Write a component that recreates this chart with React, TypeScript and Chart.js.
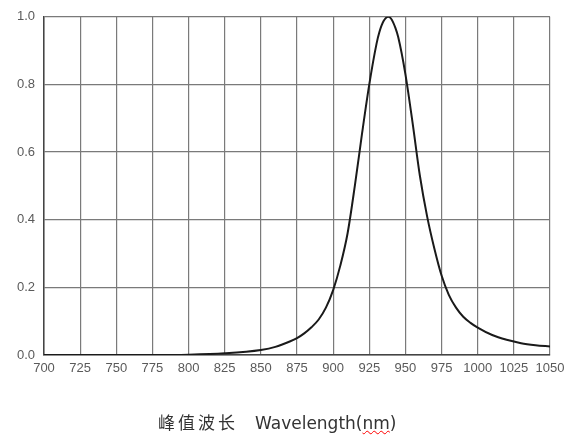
import React, { useEffect, useRef } from "react";
import { Chart, registerables } from "chart.js";

Chart.register(...registerables);

const wavelengths: number[] = [
  700, 725, 750, 775, 800, 825, 850, 860, 870, 875, 880, 885, 890, 895,
  900, 905, 910, 915, 920, 925, 930, 932, 935, 938, 940, 943, 945, 950, 955, 960, 965, 970, 975,
  980, 985, 990, 995, 1000, 1010, 1020, 1030, 1040, 1050,
];
const intensity: number[] = [
  0, 0, 0, 0, 0.001, 0.005, 0.015, 0.024, 0.04, 0.05, 0.064, 0.082, 0.105, 0.14,
  0.192, 0.265, 0.36, 0.5, 0.655, 0.8, 0.92, 0.955, 0.988, 1.0, 0.995, 0.968, 0.94, 0.83, 0.685, 0.53, 0.41, 0.315, 0.235,
  0.178, 0.14, 0.113, 0.095, 0.081, 0.059, 0.045, 0.035, 0.029, 0.025,
];
const xMin = 700;
const xMax = 1050;
const xStep = 25;
const yMin = 0;
const yMax = 1.0;
const yStep = 0.2;
const titleZh = "峰值波长";
const titleEn = "Wavelength(";
const titleUnit = "nm";
const titleEnd = ")";

export default function App() {
  const canvasRef = useRef<HTMLCanvasElement | null>(null);

  useEffect(() => {
    if (!canvasRef.current) return;
    const tickFont = { family: "'Liberation Sans', Arial, sans-serif", size: 13 };
    const chart = new Chart(canvasRef.current, {
      type: "line",
      data: {
        datasets: [
          {
            data: wavelengths.map((x, i) => ({ x, y: intensity[i] })),
            borderColor: "#1a1a1a",
            borderWidth: 2,
            pointRadius: 0,
            cubicInterpolationMode: "monotone",
            fill: false,
          },
        ],
      },
      options: {
        animation: false,
        responsive: false,
        maintainAspectRatio: false,
        layout: { padding: { left: 0, right: 25, top: 13, bottom: 54 } },
        plugins: { legend: { display: false }, tooltip: { enabled: false } },
        scales: {
          x: {
            type: "linear",
            min: xMin,
            max: xMax,
            afterFit: (s: any) => {
              s.height = 30;
            },
            ticks: {
              stepSize: xStep,
              color: "#5a5a5a",
              font: tickFont,
              padding: 6,
              maxRotation: 0,
              autoSkip: false,
              callback: (v: any) => String(v),
            },
            grid: { color: "#7a7a7a", lineWidth: 1.2, drawTicks: false },
            border: { color: "#444", width: 1.5 },
          },
          y: {
            min: yMin,
            max: yMax,
            afterFit: (s: any) => {
              s.width = 44;
            },
            ticks: {
              stepSize: yStep,
              color: "#5a5a5a",
              font: tickFont,
              padding: 9,
              callback: (v: any) => Number(v).toFixed(1),
            },
            grid: { color: "#7a7a7a", lineWidth: 1.2, drawTicks: false },
            border: { color: "#444", width: 1.5 },
          },
        },
      },
    });
    return () => chart.destroy();
  }, []);

  return (
    <div style={{ position: "absolute", left: 0, top: 0, width: 575, height: 439, background: "#fff" }}>
      <canvas ref={canvasRef} width={575} height={439} style={{ width: 575, height: 439 }} />
      <div
        style={{
          position: "absolute",
          left: 158,
          top: 412,
          lineHeight: "20px",
          fontSize: 17,
          color: "#333",
          whiteSpace: "pre",
        }}
      >
        <span style={{ fontFamily: "'Noto Sans CJK SC', sans-serif", letterSpacing: 3 }}>{titleZh}</span>
        <span style={{ fontFamily: "'DejaVu Sans', sans-serif", marginLeft: 17 }}>
          {titleEn}
          <span style={{ textDecoration: "underline wavy red", textDecorationThickness: 1 }}>{titleUnit}</span>
          {titleEnd}
        </span>
      </div>
    </div>
  );
}
